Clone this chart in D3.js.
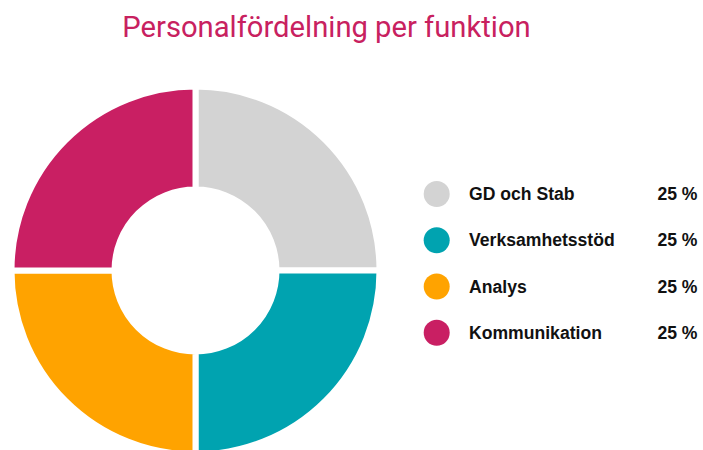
<!DOCTYPE html>
<html>
<head>
<meta charset="utf-8">
<script src="https://cdn.jsdelivr.net/npm/d3@7"></script>
<style>
  body { margin: 0; background: #fff; }
  svg { display: block; }
</style>
</head>
<body>
<div id="vis"></div>
<script>
// data
const categories = ['GD och Stab', 'Verksamhetsstöd', 'Analys', 'Kommunikation'];
const values = [25, 25, 25, 25];
const sliceColors = ['#d3d3d3', '#00a3b0', '#ffa300', '#c91f63'];

const width = 703, height = 450;

const svg = d3.select('#vis').append('svg')
  .attr('width', width)
  .attr('height', height);

// title
svg.append('text')
  .attr('x', 326.5)
  .attr('y', 37)
  .attr('text-anchor', 'middle')
  .style('font-family', 'Roboto, sans-serif')
  .style('font-size', '29.2px')
  .style('fill', '#c8215f')
  .text('Personalfördelning per funktion');

// donut
const cx = 195.5, cy = 270.5;
const pie = d3.pie().sort(null).value(d => d.value);
const arc = d3.arc().innerRadius(81).outerRadius(184);

const table = categories.map((c, i) => ({ name: c, value: values[i], color: sliceColors[i] }));

svg.append('g')
  .attr('transform', `translate(${cx},${cy})`)
  .selectAll('path')
  .data(pie(table))
  .join('path')
    .attr('d', arc)
    .attr('fill', d => d.data.color)
    .attr('stroke', '#fff')
    .attr('stroke-width', 6);

// legend
const total = d3.sum(values);
const y = d3.scalePoint().domain(categories).range([194, 332.7]);

const legend = svg.append('g')
  .selectAll('g')
  .data(table)
  .join('g')
    .attr('transform', d => `translate(0,${y(d.name)})`);

legend.append('circle')
  .attr('cx', 436.7)
  .attr('r', 13)
  .attr('fill', d => d.color);

legend.append('text')
  .attr('x', 469)
  .attr('dy', '0.35em')
  .style('font-family', 'Liberation Sans, Arial, sans-serif')
  .style('font-weight', 'bold')
  .style('font-size', '17.6px')
  .style('fill', '#111')
  .text(d => d.name);

legend.append('text')
  .attr('x', 697.5)
  .attr('dy', '0.35em')
  .attr('text-anchor', 'end')
  .style('font-family', 'Liberation Sans, Arial, sans-serif')
  .style('font-weight', 'bold')
  .style('font-size', '17.6px')
  .style('fill', '#111')
  .text(d => Math.round(d.value / total * 100) + ' %');
</script>
</body>
</html>
